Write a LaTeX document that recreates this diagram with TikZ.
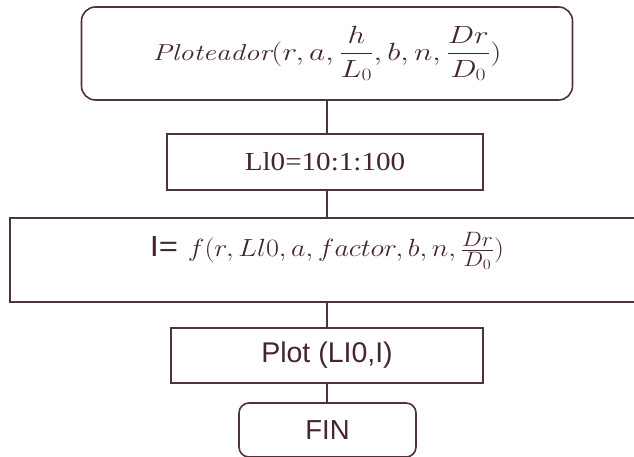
\documentclass[tikz,border=0pt]{standalone}
\usepackage{fontspec}
\usepackage{amsmath}
\usepackage{graphicx}
\newfontfamily\arialfont{Liberation Sans}
\newfontfamily\timesfont{Liberation Serif}
\definecolor{edge}{HTML}{4F3140}
\definecolor{ink}{HTML}{45262F}
\begin{document}
\begin{tikzpicture}[x=1pt,y=-1pt,
  box/.style={draw=edge,line width=1.6pt,fill=white,inner sep=0pt,text=ink},
  roundbox/.style={box,rounded corners=14pt},
  link/.style={draw=edge,line width=1.6pt}]
\useasboundingbox (0,0) rectangle (634,457);
\begin{scope}
\clip (0,0) rectangle (634,457);
% start block
\node[roundbox,minimum width=491pt,minimum height=93pt] (start) at (327,53.5)
  {\fontsize{23}{27}\selectfont\scalebox{1.26}[1]{$\mathit{Ploteador}(r,a,\dfrac{h}{L_0},b,n,\dfrac{Dr}{D_0})$}};
% range of the variable
\node[box,minimum width=316pt,minimum height=56pt] (range) at (325,162)
  {\timesfont\fontsize{26}{30}\selectfont\scalebox{1.12}[1]{Ll0=10:1:100}};
% evaluation of the function
\node[box,minimum width=632pt,minimum height=84pt] (eval) at (326,260) {};
\node[text=ink,anchor=center] (evaltext) at (327,251)
  {\fontsize{29}{33}\selectfont\scalebox{1.13}[1]{{\arialfont I=} $f(r,Ll0,a,factor,b,n,\tfrac{Dr}{D_0})$}};
% plotting
\node[box,minimum width=312pt,minimum height=55pt] (plot) at (327,355.5)
  {\arialfont\fontsize{28.5}{32}\selectfont Plot (LI0,I)};
% end block
\node[roundbox,rounded corners=10pt,minimum width=177pt,minimum height=54pt] (fin) at (327.5,430)
  {\arialfont\fontsize{27.5}{31}\selectfont FIN};
\end{scope}
% connectors, kept vertical
\draw[link] (start.south) -- (start.south |- range.north);
\draw[link] (start.south |- range.south) -- (start.south |- eval.north);
\draw[link] (plot.north |- eval.south) -- (plot.north);
\draw[link] (plot.south) -- (plot.south |- fin.north);
\end{tikzpicture}
\end{document}
